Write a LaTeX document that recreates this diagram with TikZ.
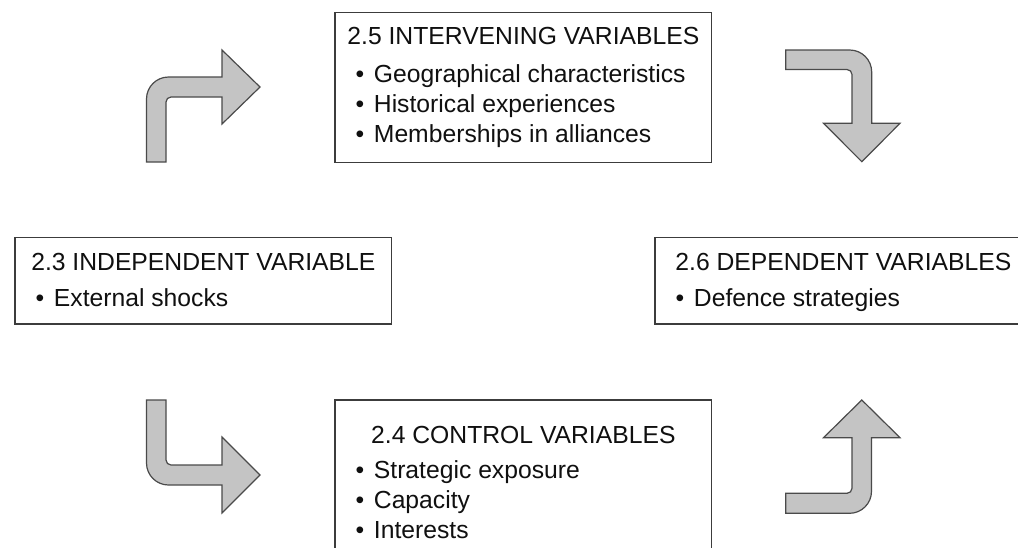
\documentclass[tikz,border=0pt]{standalone}
\usepackage{fontspec}
\setmainfont{Liberation Sans}
\definecolor{arrowfill}{HTML}{C4C4C4}
\definecolor{arrowedge}{HTML}{4A4A4A}
\definecolor{boxedge}{HTML}{3C3C3C}
\definecolor{inktext}{HTML}{101010}
\newcommand{\myitem}{•\hspace{9.6pt}}
\begin{document}
\begin{tikzpicture}[x=1pt,y=-1pt,
  boxnode/.style={draw=boxedge, line width=1.4pt, fill=none, inner sep=0pt, outer sep=0pt, minimum width=376.7pt},
  titletext/.style={anchor=base, inner sep=0pt, text=inktext, font=\fontsize{24.7pt}{30pt}\selectfont},
  itemtext/.style={anchor=base west, inner sep=0pt, text=inktext, font=\fontsize{24.7pt}{30pt}\selectfont},
  bentarrow/.style={fill=arrowfill, draw=arrowedge, line width=1.2pt, line join=miter}]
\fill[white] (0,0) rectangle (1018,547);
\clip (0,0) rectangle (1018,547);

% boxes
\node[boxnode, minimum height=150pt] (iv) at (523.35,87.3) {};
\node[boxnode, minimum height=86.5pt] (ind) at (203.35,280.75) {};
\node[boxnode, minimum height=86.5pt] (dep) at (843.35,280.75) {};
\node[boxnode, minimum height=160pt] (ctl) at (523.35,480) {};

% intervening variables
\node[titletext] (ivt) at (523.35,44.5) {2.5 INTERVENING VARIABLES};
\node[itemtext] (iva) at (355.5,82) {\myitem Geographical characteristics};
\node[itemtext] (ivb) at (355.5,112.5) {\myitem Historical experiences};
\node[itemtext] (ivc) at (355.5,142.5) {\myitem Memberships in alliances};

% independent variable
\node[titletext] (indt) at (203.35,270.5) {2.3 INDEPENDENT VARIABLE};
\node[itemtext] (inda) at (35.5,306.5) {\myitem External shocks};

% dependent variables
\node[titletext] (dept) at (843.35,270.5) {2.6 DEPENDENT VARIABLES};
\node[itemtext] (depa) at (675.5,306.5) {\myitem Defence strategies};

% control variables
\node[titletext] (ctlt) at (523.35,443.5) {2.4 CONTROL VARIABLES};
\node[itemtext] (ctla) at (355.5,478.5) {\myitem Strategic exposure};
\node[itemtext] (ctlb) at (355.5,508.5) {\myitem Capacity};
\node[itemtext] (ctlc) at (355.5,538.5) {\myitem Interests};

% top-left bent arrow
\draw[bentarrow] (146.5,162) -- (146.5,99) .. controls (146.5,86.85) and (156.35,77) .. (168.5,77)
  -- (222,77) -- (222,50) -- (260,87) -- (222,124) -- (222,97) -- (171,97)
  .. controls (168.24,97) and (166,99.24) .. (166,102) -- (166,162) -- cycle;

% top-right bent arrow
\draw[bentarrow] (785.7,50) -- (849.7,50) .. controls (861.85,50) and (871.7,59.85) .. (871.7,72)
  -- (871.7,123.3) -- (900,123.3) -- (861.8,161.7) -- (823.5,123.3) -- (852,123.3) -- (852,74.5)
  .. controls (852,71.74) and (849.76,69.5) .. (847,69.5) -- (785.7,69.5) -- cycle;

% bottom-left bent arrow
\draw[bentarrow] (146.5,400) -- (166,400) -- (166,460) .. controls (166,462.76) and (168.24,465) .. (171,465)
  -- (222,465) -- (222,437) -- (260,475) -- (222,513) -- (222,485) -- (168.5,485)
  .. controls (156.35,485) and (146.5,475.15) .. (146.5,463) -- cycle;

% bottom-right bent arrow
\draw[bentarrow] (785.7,493.3) -- (847,493.3) .. controls (849.76,493.3) and (852,491.06) .. (852,488.3)
  -- (852,437.7) -- (823.5,437.7) -- (861.8,400) -- (900,437.7) -- (871.5,437.7) -- (871.5,491.3)
  .. controls (871.5,503.45) and (861.65,513.3) .. (849.5,513.3) -- (785.7,513.3) -- cycle;
\end{tikzpicture}
\end{document}
